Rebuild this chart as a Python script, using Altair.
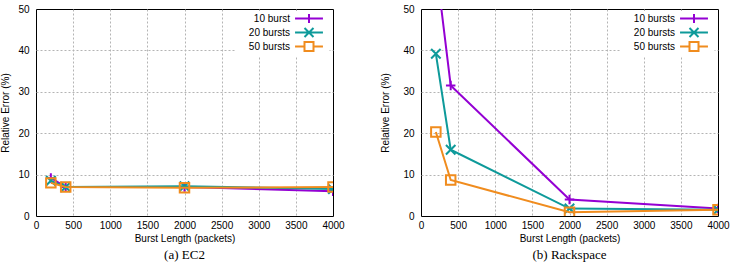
import altair as alt
import pandas as pd

# ---- data ----
burst_len = [200, 400, 2000, 4000]
x_ticks = [0, 500, 1000, 1500, 2000, 2500, 3000, 3500, 4000]
y_ticks = [0, 10, 20, 30, 40, 50]

ec2_labels = ["10 burst", "20 bursts", "50 bursts"]
ec2_10 = [9.2, 7.0, 7.0, 6.0]
ec2_20 = [8.5, 7.0, 7.2, 6.5]
ec2_50 = [8.0, 7.0, 6.8, 7.0]

rack_labels = ["10 bursts", "20 bursts", "50 bursts"]
rack_10 = [61.0, 31.5, 4.0, 1.8]
rack_20 = [39.2, 16.0, 1.8, 1.5]
rack_50 = [20.3, 8.7, 0.9, 1.5]

colors = ["#9400D3", "#0E9A9A", "#F08C1E"]

# marker shapes (plus, x, open square) and legend samples (line + marker)
marker_paths = ["M-1,0L1,0M0,-1L0,1", "M-1,-1L1,1M-1,1L1,-1", "square"]
legend_paths = [
    "M-3.1,0L3.1,0M0,-1L0,1",
    "M-3.1,0L3.1,0M-1,-1L1,1M-1,1L1,-1",
    "M-3.1,0L-1,0M1,0L3.1,0M-1,-1L1,-1L1,1L-1,1Z",
]

FONT = "Liberation Sans"
W, H = 297, 207


def panel(labels, series, caption, ytitle_pad):
    rows = []
    for lab, vals in zip(labels, series):
        for x, v in zip(burst_len, vals):
            rows.append({"len": x, "err": v, "series": lab})
    df = pd.DataFrame(rows)

    edge_x = {"condition": {"test": "datum.value == 0 || datum.value == 4000", "value": 0}, "value": 1}
    edge_y = {"condition": {"test": "datum.value == 0 || datum.value == 50", "value": 0}, "value": 1}
    x = alt.X("len:Q", scale=alt.Scale(domain=[0, 4000], nice=False),
              axis=alt.Axis(values=x_ticks, format="d", labelOverlap=False, labelFlush=False,
                            gridOpacity=edge_x, title="Burst Length (packets)"))
    y = alt.Y("err:Q", scale=alt.Scale(domain=[0, 50], nice=False),
              axis=alt.Axis(values=y_ticks, format="d", labelOverlap=False, labelFlush=False,
                            gridOpacity=edge_y, titlePadding=ytitle_pad,
                            title="Relative Error (%)"))

    layers = []
    for lab, col, shp in zip(labels, colors, marker_paths):
        base = alt.Chart(df).transform_filter(alt.datum.series == lab).encode(x=x, y=y)
        layers.append(base.mark_line(color=col, strokeWidth=2, clip=True))
        layers.append(base.mark_point(color=col, shape=shp, size=90, strokeWidth=2,
                                      filled=False, opacity=1, clip=True))

    legend = alt.Legend(
        title=None, orient="none", legendX=W - 25 - 72.5, legendY=2, padding=2,
        labelAlign="right", labelOffset={"expr": "-24.5"}, symbolOffset=66,
        labelFont=FONT, labelFontSize=10,
        labelColor="black", symbolSize=81, symbolStrokeWidth=2,
        rowPadding={"expr": "-7"},
        fillColor="white", symbolOpacity=1,
    )
    leg_layer = alt.Chart(df).transform_filter("false").mark_point(filled=False).encode(
        x=x, y=y,
        color=alt.Color("series:N", scale=alt.Scale(domain=labels, range=colors), legend=legend),
        shape=alt.Shape("series:N", scale=alt.Scale(domain=labels, range=legend_paths), legend=legend),
    )
    layers.append(leg_layer)

    return alt.layer(*layers).properties(
        width=W, height=H,
        title=alt.TitleParams(caption, orient="bottom", font="Liberation Serif",
                              fontSize=13, fontWeight="normal", color="black", offset=6),
    )


left = panel(ec2_labels, [ec2_10, ec2_20, ec2_50], "(a) EC2", 7)
right = panel(rack_labels, [rack_10, rack_20, rack_50], "(b) Rackspace", 12)

chart = alt.hconcat(left, right, spacing=35).resolve_scale(
    color="independent", shape="independent"
).resolve_legend(color="independent", shape="independent").properties(
    padding={"left": 0, "top": 3, "right": 0, "bottom": 0}
).configure_view(stroke="black", strokeWidth=1).configure_axis(
    domain=False, ticks=False, labelFont=FONT, labelFontSize=10, labelColor="black",
    titleFont=FONT, titleFontSize=10, titleFontWeight="normal", titleColor="black",
    gridColor="#b4b4b4", gridDash=[2, 2], gridWidth=1,
).configure_axisX(labelPadding=4, titlePadding=3).configure_axisY(labelPadding=7)

chart.save("out.html", embed_options={"renderer": "svg", "actions": False})
